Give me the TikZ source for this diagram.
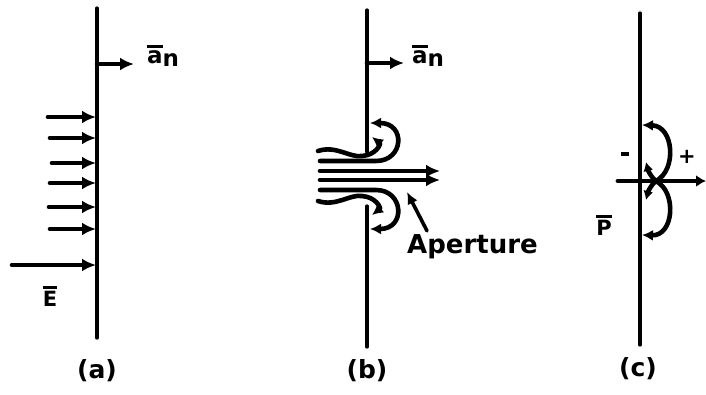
\documentclass[tikz,border=0pt]{standalone}
\usepackage{fontspec}
\setmainfont{DejaVu Sans}
\usetikzlibrary{arrows.meta}
\newcommand\barover[2][2.5pt]{\vbox{\hrule height 2.8pt\kern #1\hbox{#2}}}
\begin{document}
\begin{tikzpicture}[x=1pt,y=-1pt,
  wall/.style={line width=3.2pt, line cap=round},
  fld/.style={line width=4.6pt, line cap=round},
  tip/.style={-{Latex[length=14pt,width=13pt]}},
  stip/.style={-{Latex[length=11pt,width=11pt]}},
  lbl/.style={inner sep=0pt, font=\fontsize{25}{27}\selectfont\bfseries},
  sym/.style={inner sep=0pt, font=\fontsize{21}{23}\selectfont\bfseries}]
\useasboundingbox (0,0) rectangle (706,394);

% ---------------- panel (a)
\coordinate (aT) at (97,8);
\coordinate (aB) at (97,338);
\draw[wall] (aT) -- (aB);
\coordinate (aN0) at (97,64);
\coordinate (aN1) at (134,64);
\draw[fld,tip] (aN0) -- (aN1);
\node[anchor=base west, inner sep=0pt, font=\fontsize{23}{23}\selectfont\bfseries] (aNl) at (147,63) {\barover{a}\raisebox{-3pt}{n}};
\foreach \i/\y/\x in {1/117/48, 2/138/50, 3/163/52, 4/183/50, 5/207/49, 6/229/50, 7/265/12}{
  \coordinate (e\i s) at (\x,\y);
  \coordinate (e\i e) at (96,\y);
  \draw[fld,tip] (e\i s) -- (e\i e);
}
\node[sym] (El) at (50,296) {\barover{E}};
\node[lbl] (la) at (97,371) {(a)};

% ---------------- panel (b)
\coordinate (bT) at (367,10);
\coordinate (bU) at (367,152);
\coordinate (bL) at (367,206);
\coordinate (bB) at (367,347);
\draw[wall] (bT) -- (bU);
\draw[wall] (bL) -- (bB);
\coordinate (bN0) at (367,63);
\coordinate (bN1) at (404,63);
\draw[fld,tip] (bN0) -- (bN1);
\node[anchor=base west, inner sep=0pt, font=\fontsize{23}{23}\selectfont\bfseries] (bNl) at (412,63) {\barover{a}\raisebox{-3pt}{n}};

% straight lines through the aperture
\coordinate (c1s) at (320,171); \coordinate (c1e) at (440,171);
\coordinate (c2s) at (320,180); \coordinate (c2e) at (440,180);
\draw[fld,tip] (c1s) -- (c1e);
\draw[fld,tip] (c2s) -- (c2e);

% outer lines bending back
\coordinate (uo1) at (320,161); \coordinate (uo2) at (376,161); \coordinate (uo3) at (370,123);
\draw[fld,stip] (uo1) -- (uo2) .. controls (404,161) and (406,123) .. (uo3);
\coordinate (lo1) at (320,190); \coordinate (lo2) at (376,190); \coordinate (lo3) at (370,229);
\draw[fld,stip] (lo1) -- (lo2) .. controls (404,190) and (406,229) .. (lo3);

% inner lines hooking round the edges
\coordinate (ui1) at (318,151); \coordinate (ui2) at (362,156); \coordinate (ui3) at (372,137);
\draw[fld,stip] (ui1) .. controls (336,145) and (350,158) .. (ui2) .. controls (376,155) and (381,144) .. (ui3);
\coordinate (li1) at (318,201); \coordinate (li2) at (362,196); \coordinate (li3) at (372,215);
\draw[fld,stip] (li1) .. controls (336,207) and (350,194) .. (li2) .. controls (376,197) and (381,208) .. (li3);

% aperture label
\node[anchor=base west, inner sep=0pt, font=\fontsize{26}{28}\selectfont\bfseries] (ap) at (407,253) {Aperture};
\coordinate (apt) at (407,192);
\draw[line width=3.6pt, line cap=round, -{Latex[length=12pt,width=11pt]}] (ap.north west) ++(20,-3) coordinate (aps) (aps) -- (apt);
\node[lbl] (lb) at (367,371) {(b)};

% ---------------- panel (c)
\coordinate (cT) at (640,13);
\coordinate (cB) at (640,345);
\draw[wall] (cT) -- (cB);
\coordinate (pL) at (618,181);
\coordinate (pR) at (706,181);
\draw[line width=4.8pt, line cap=round, -{Latex[length=10pt,width=12pt]}] (pL) -- (pR);
\coordinate (pc) at (656,181);
\coordinate (pu) at (642,125);
\coordinate (pd) at (642,235);
\coordinate (hu) at (646,162);
\coordinate (hd) at (646,200);
\draw[fld,stip] (pc) .. controls (677,170) and (674,126) .. (pu);
\draw[fld,stip] (pc) .. controls (677,192) and (674,236) .. (pd);
\draw[fld,-{Latex[length=9pt,width=10pt]}] (pc) .. controls (650,176) and (648,170) .. (hu);
\draw[fld,-{Latex[length=9pt,width=10pt]}] (pc) .. controls (650,186) and (648,192) .. (hd);
\node[sym] (minus) at (625,154) {\rule{8pt}{3.6pt}};
\node[sym] (plus) at (687,157) {+};
\node[sym] (P) at (604,225) {\barover{P}};
\node[lbl] (lc) at (638,369) {(c)};
\end{tikzpicture}
\end{document}
